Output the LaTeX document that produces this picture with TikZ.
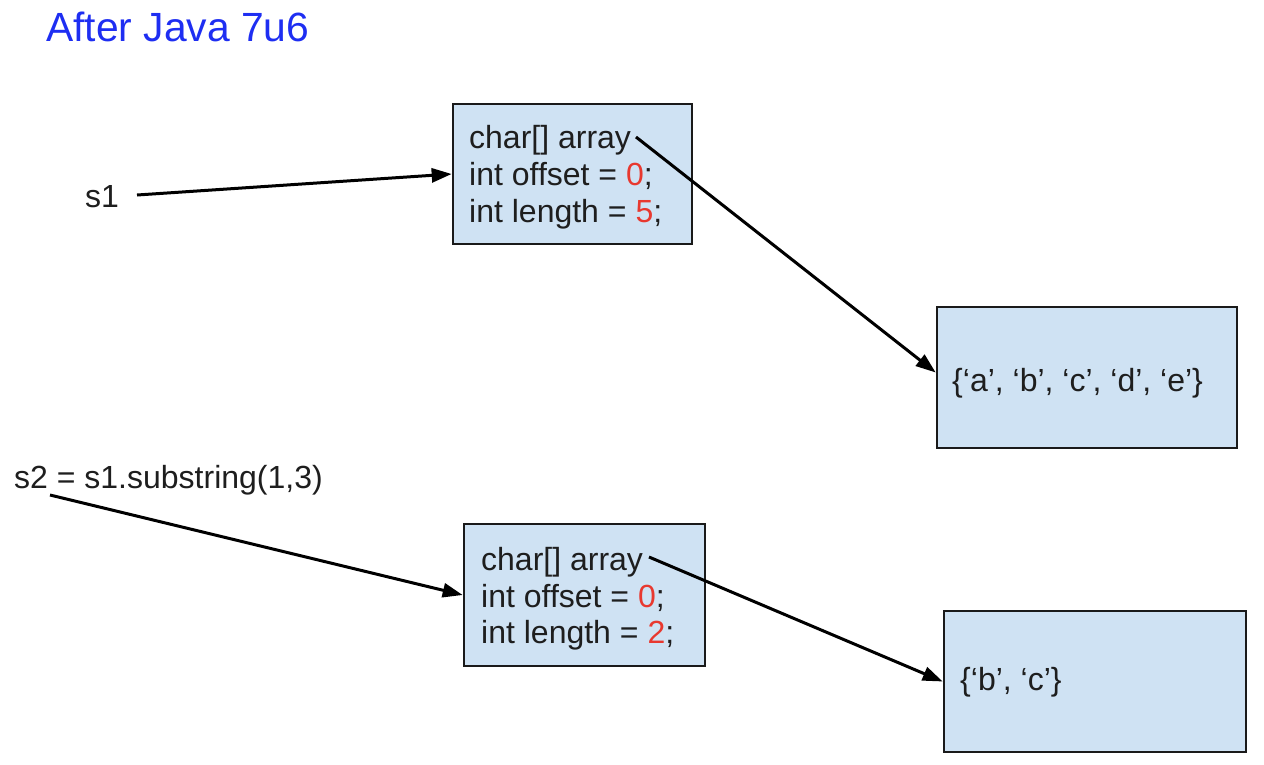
\documentclass[tikz,border=0pt]{standalone}
\usepackage{fontspec}
\setmainfont{Liberation Sans}
\usetikzlibrary{arrows.meta}
\definecolor{boxfill}{HTML}{CFE2F3}
\definecolor{boxline}{HTML}{1A1A1A}
\definecolor{numred}{HTML}{E8382F}
\definecolor{titleblue}{HTML}{1E2EF2}
\definecolor{txt}{HTML}{1E1E1E}
\begin{document}
\begin{tikzpicture}[x=1pt,y=-1pt,
  membox/.style={draw=boxline,fill=boxfill,line width=2.6pt,rectangle,inner sep=0pt},
  txtnode/.style={anchor=base west,inner sep=0pt,text=txt,font=\fontsize{32}{38}\selectfont},
  ptr/.style={line width=3pt,draw=black,-{Triangle[length=20pt,width=14pt]}}]
\useasboundingbox (0,0) rectangle (1264,764);
% title
\node[anchor=base west,inner sep=0pt,text=titleblue,font=\fontsize{40.8}{46}\selectfont] (title) at (46,41) {After Java 7u6};
% boxes
\node[membox,minimum width=239pt,minimum height=140pt] (b1) at (572.5,174) {};
\node[membox,minimum width=300pt,minimum height=141pt] (b2) at (1087,377.5) {};
\node[membox,minimum width=241pt,minimum height=142pt] (b3) at (584.5,595) {};
\node[membox,minimum width=302pt,minimum height=141pt] (b4) at (1095,681.5) {};
% box 1 text
\node[txtnode] (b1l1) at (469,148) {char[] array};
\node[txtnode] (b1l2) at (469,185) {int offset = {\color{numred}0};};
\node[txtnode] (b1l3) at (469,222) {int length = {\color{numred}5};};
% box 2 text
\node[txtnode] (b2l1) at (952,391) {\{‘a’, ‘b’, ‘c’, ‘d’, ‘e’\}};
% box 3 text
\node[txtnode] (b3l1) at (481,570) {char[] array};
\node[txtnode] (b3l2) at (481,607) {int offset = {\color{numred}0};};
\node[txtnode] (b3l3) at (481,643) {int length = {\color{numred}2};};
% box 4 text
\node[txtnode] (b4l1) at (960,690) {\{‘b’, ‘c’\}};
% labels
\node[txtnode] (s1) at (85,207) {s1};
\node[txtnode] (s2) at (14,488) {s2 = s1.substring(1,3)};
% connector ends
\coordinate (s1e) at (137,195);
\coordinate (s2e) at (50,495);
\coordinate (a1) at (636,137);
\coordinate (a3) at (649,557);
% arrows
\draw[ptr] (s1e) -- (b1.west);
\draw[ptr] (a1) -- ([yshift=5pt]b2.west);
\draw[ptr] (s2e) -- (b3.west);
\draw[ptr] (a3) -- (b4.west);
\end{tikzpicture}
\end{document}
